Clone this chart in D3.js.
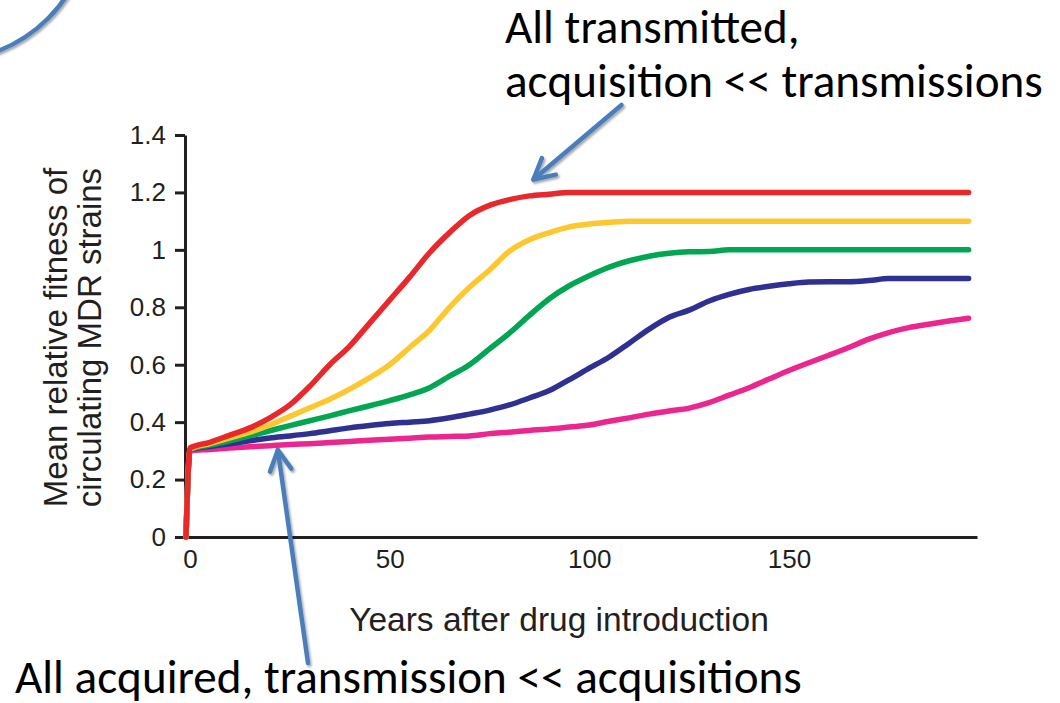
<!DOCTYPE html>
<html>
<head>
<meta charset="utf-8">
<script src="https://cdn.jsdelivr.net/npm/d3@7"></script>
<style>
  html, body { margin: 0; padding: 0; background: #ffffff; }
  svg { display: block; }
</style>
</head>
<body>
<svg id="chart" width="1060" height="703"></svg>
<script>
// Years after drug introduction (shared sampling grid for every scenario)
const years = [-1, 0, 5, 10, 15, 20, 25, 30, 35, 40, 45, 50, 55, 60, 65, 70, 75, 80, 85, 90, 95,
  100, 105, 110, 115, 120, 125, 130, 135, 140, 145, 150, 155, 160, 165, 170, 175, 180, 185, 190, 195];

// Mean relative fitness of circulating MDR strains, one array per scenario
const redValues = [0, 0.31, 0.33, 0.355, 0.38, 0.415, 0.46, 0.525, 0.60, 0.665, 0.745, 0.825, 0.905, 0.99, 1.06, 1.12, 1.155, 1.175, 1.188, 1.194, 1.2,
  1.2, 1.2, 1.2, 1.2, 1.2, 1.2, 1.2, 1.2, 1.2, 1.2, 1.2, 1.2, 1.2, 1.2, 1.2, 1.2, 1.2, 1.2, 1.2, 1.2];
const yellowValues = [0, 0.305, 0.325, 0.345, 0.365, 0.39, 0.42, 0.45, 0.48, 0.515, 0.555, 0.60, 0.66, 0.72, 0.80, 0.87, 0.93, 0.995, 1.035, 1.06, 1.08,
  1.09, 1.096, 1.1, 1.1, 1.1, 1.1, 1.1, 1.1, 1.1, 1.1, 1.1, 1.1, 1.1, 1.1, 1.1, 1.1, 1.1, 1.1, 1.1, 1.1];
const greenValues = [0, 0.305, 0.32, 0.335, 0.352, 0.37, 0.388, 0.405, 0.422, 0.44, 0.457, 0.475, 0.495, 0.52, 0.56, 0.60, 0.655, 0.71, 0.772, 0.83, 0.875,
  0.91, 0.94, 0.962, 0.978, 0.988, 0.993, 0.994, 1.0, 1.0, 1.0, 1.0, 1.0, 1.0, 1.0, 1.0, 1.0, 1.0, 1.0, 1.0, 1.0];
const blueValues = [0, 0.305, 0.315, 0.325, 0.335, 0.345, 0.352, 0.36, 0.37, 0.38, 0.388, 0.395, 0.40, 0.405, 0.415, 0.428, 0.442, 0.46, 0.484, 0.51, 0.548,
  0.588, 0.627, 0.675, 0.724, 0.765, 0.79, 0.822, 0.845, 0.862, 0.873, 0.882, 0.888, 0.889, 0.889, 0.893, 0.9, 0.9, 0.9, 0.9, 0.9];
const pinkValues = [0, 0.30, 0.305, 0.31, 0.314, 0.318, 0.322, 0.325, 0.329, 0.333, 0.337, 0.34, 0.344, 0.348, 0.35, 0.352, 0.36, 0.365, 0.371, 0.376, 0.383,
  0.39, 0.403, 0.415, 0.428, 0.439, 0.449, 0.468, 0.494, 0.52, 0.55, 0.58, 0.607, 0.633, 0.66, 0.689, 0.712, 0.729, 0.741, 0.752, 0.762];

// Drawn bottom to top, so the fastest-rising curve sits on top
const seriesList = [
  { name: "pink", values: pinkValues, color: "#ec268f" },
  { name: "blue", values: blueValues, color: "#2e3192" },
  { name: "green", values: greenValues, color: "#00a651" },
  { name: "yellow", values: yellowValues, color: "#fdc82f" },
  { name: "red", values: redValues, color: "#e8282b" }
];

const yTicks = [0, 0.2, 0.4, 0.6, 0.8, 1, 1.2, 1.4];
const xTicks = [0, 50, 100, 150];

const xTitle = "Years after drug introduction";
const yTitleLines = ["Mean relative fitness of", "circulating MDR strains"];
const topNote = ["All transmitted,", "acquisition << transmissions"];
const bottomNote = "All acquired, transmission << acquisitions";

const svg = d3.select("#chart");
svg.append("rect").attr("width", 1060).attr("height", 703).attr("fill", "#ffffff");

const defs = svg.append("defs");
const shadow = defs.append("filter").attr("id", "softShadow")
  .attr("x", "-20%").attr("y", "-20%").attr("width", "140%").attr("height", "140%");
shadow.append("feDropShadow").attr("dx", 1.5).attr("dy", 2).attr("stdDeviation", 1.2)
  .attr("flood-color", "#000").attr("flood-opacity", 0.35);

// Scales
const x = d3.scaleLinear().domain([-1.25, 197.1]).range([185, 977]);
const y = d3.scaleLinear().domain([0, 1.4]).range([537, 135]);

const axisColor = "#231f20";
const tickFont = "'Liberation Sans', Arial, Helvetica, sans-serif";

// Y axis
const yAxis = svg.append("g")
  .attr("transform", `translate(${x.range()[0]},0)`)
  .call(d3.axisLeft(y).tickValues(yTicks).tickSize(10).tickSizeOuter(0).tickPadding(9)
    .tickFormat(d3.format("~g")));
yAxis.select(".domain").attr("stroke", axisColor).attr("stroke-width", 3);
yAxis.selectAll(".tick line").attr("stroke", axisColor).attr("stroke-width", 3);
yAxis.selectAll(".tick text").attr("fill", axisColor)
  .style("font-family", tickFont).style("font-size", "26px");

// X axis (no tick marks)
const xAxis = svg.append("g")
  .attr("transform", `translate(0,${y.range()[0]})`)
  .call(d3.axisBottom(x).tickValues(xTicks).tickSize(0).tickSizeOuter(0).tickPadding(13)
    .tickFormat(d3.format("d")));
xAxis.select(".domain").attr("stroke", axisColor).attr("stroke-width", 3);
xAxis.selectAll(".tick text").attr("fill", axisColor)
  .style("font-family", tickFont).style("font-size", "26px");

// Axis titles
svg.append("text")
  .attr("x", 559).attr("y", 631)
  .attr("text-anchor", "middle")
  .attr("fill", axisColor)
  .style("font-family", tickFont).style("font-size", "33.5px")
  .text(xTitle);

const yTitle = svg.append("text")
  .attr("transform", "translate(0,337.5) rotate(-90)")
  .attr("text-anchor", "middle")
  .attr("fill", axisColor)
  .style("font-family", tickFont).style("font-size", "33px");
yTitleLines.forEach((line, i) => {
  yTitle.append("tspan").attr("x", 0).attr("y", 67 + i * 34).text(line);
});

// Curves
const line = d3.line()
  .x((d, i) => x(years[i]))
  .y(d => y(d))
  .curve(d3.curveMonotoneX);

svg.append("g").selectAll("path")
  .data(seriesList)
  .join("path")
  .attr("d", d => line(d.values))
  .attr("fill", "none")
  .attr("stroke", d => d.color)
  .attr("stroke-width", 5.5)
  .attr("stroke-linecap", "round")
  .attr("stroke-linejoin", "round");

// Annotations
const noteFont = "Carlito, Calibri, Lato, 'Open Sans', sans-serif";
const noteColor = "#000000";
const arrowColor = "#4a7ebb";

const noteG = svg.append("g").style("font-family", noteFont).attr("fill", noteColor);
const t1 = noteG.append("text").attr("x", 505).attr("y", 43).style("font-size", "32px").text(topNote[0]);
const t2 = noteG.append("text").attr("x", 505).attr("y", 97).style("font-size", "32px").text(topNote[1]);
const t3 = noteG.append("text").attr("x", 15).attr("y", 693).style("font-size", "32px").text(bottomNote);

// Size the note font so the second line spans its intended width
const measured = t2.node().getComputedTextLength();
const noteSize = 32 * 538 / measured;
[t1, t2, t3].forEach(t => t.style("font-size", noteSize + "px"));

// Arrow helper: straight shaft with an open V head at the tip
function arrow(tail, tip) {
  const g = svg.append("g").attr("filter", "url(#softShadow)")
    .attr("stroke", arrowColor).attr("stroke-width", 4.5)
    .attr("stroke-linecap", "round").attr("stroke-linejoin", "round").attr("fill", "none");
  g.append("line").attr("x1", tail[0]).attr("y1", tail[1]).attr("x2", tip[0]).attr("y2", tip[1]);
  const ang = Math.atan2(tail[1] - tip[1], tail[0] - tip[0]);
  const len = 23, spread = 28 * Math.PI / 180;
  const b1 = [tip[0] + len * Math.cos(ang - spread), tip[1] + len * Math.sin(ang - spread)];
  const b2 = [tip[0] + len * Math.cos(ang + spread), tip[1] + len * Math.sin(ang + spread)];
  g.append("path").attr("d", `M${b1[0]},${b1[1]}L${tip[0]},${tip[1]}L${b2[0]},${b2[1]}`);
}

// Upper arrow points at the red plateau, lower arrow at the flat pink start
arrow([621.5, 105], [x(86), y(1.245)]);
arrow([308, 663], [x(22), y(0.303)]);

// Decorative arc in the upper-left corner
svg.append("circle")
  .attr("cx", -55).attr("cy", -85).attr("r", 146)
  .attr("fill", "none").attr("stroke", arrowColor).attr("stroke-width", 4.5)
  .attr("filter", "url(#softShadow)");
</script>
</body>
</html>
